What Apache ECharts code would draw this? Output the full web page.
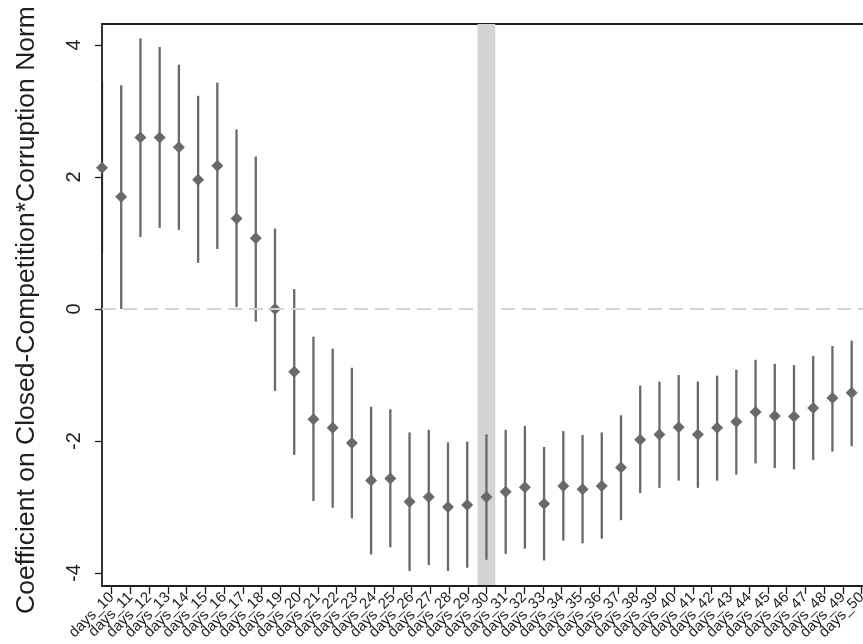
<!DOCTYPE html>
<html>
<head>
<meta charset="utf-8">
<script src="https://cdn.jsdelivr.net/npm/echarts@6/dist/echarts.min.js"></script>
<style>
  html, body { margin: 0; padding: 0; background: #fff; }
  #chart { width: 863px; height: 644px; }
</style>
</head>
<body>
<div id="chart"></div>
<script>
// Tick labels along the horizontal axis
const tickLabels = [
  'days_10', 'days_11', 'days_12', 'days_13', 'days_14', 'days_15', 'days_16',
  'days_17', 'days_18', 'days_19', 'days_20', 'days_21', 'days_22', 'days_23',
  'days_24', 'days_25', 'days_26', 'days_27', 'days_28', 'days_29', 'days_30',
  'days_31', 'days_32', 'days_33', 'days_34', 'days_35', 'days_36', 'days_37',
  'days_38', 'days_39', 'days_40', 'days_41', 'days_42', 'days_43', 'days_44',
  'days_45', 'days_46', 'days_47', 'days_48', 'days_49', 'days_50'
];

// Point estimates and confidence bounds
const coef = [
  2.14, 1.70, 2.60, 2.60, 2.45, 1.96, 2.17, 1.37, 1.07, 0.00,
  -0.95, -1.67, -1.80, -2.03, -2.60, -2.57, -2.92, -2.85, -3.00, -2.97,
  -2.85, -2.77, -2.70, -2.95, -2.68, -2.73, -2.68, -2.40, -1.98, -1.90,
  -1.79, -1.90, -1.80, -1.71, -1.56, -1.62, -1.63, -1.50, -1.35, -1.27
];
const ciLow = [
  0.85, 0.00, 1.09, 1.23, 1.20, 0.70, 0.91, 0.03, -0.19, -1.24,
  -2.21, -2.91, -3.01, -3.17, -3.72, -3.61, -3.97, -3.88, -3.97, -3.92,
  -3.80, -3.71, -3.63, -3.81, -3.51, -3.55, -3.48, -3.20, -2.79, -2.71,
  -2.60, -2.71, -2.60, -2.51, -2.34, -2.41, -2.43, -2.29, -2.16, -2.08
];
const ciHigh = [
  3.45, 3.39, 4.10, 3.97, 3.70, 3.23, 3.43, 2.72, 2.31, 1.22,
  0.30, -0.42, -0.60, -0.89, -1.48, -1.52, -1.87, -1.83, -2.02, -2.01,
  -1.90, -1.83, -1.77, -2.09, -1.85, -1.91, -1.87, -1.61, -1.16, -1.10,
  -1.00, -1.10, -1.01, -0.92, -0.77, -0.83, -0.85, -0.71, -0.56, -0.48
];

// Value-axis ticks and the highlighted estimate
const yTicks = [-4, -2, 0, 2, 4];
const highlightIndex = 20;

const FONT = 'Liberation Sans, Arial, sans-serif';
const MARK = '#696969';
const INK = '#1e1e1e';

const pointData = coef.map((v, i) => [i, v]);
const barData = coef.map((v, i) => [i, ciLow[i], ciHigh[i]]);

const chart = echarts.init(document.getElementById('chart'), null, { renderer: 'canvas' });

chart.setOption({
  animation: false,
  backgroundColor: '#fff',
  grid: [
    { left: 102, right: 0, top: 24, bottom: 58, outerBoundsMode: 'none', containLabel: false },
    { left: 111.7, right: 1.3, top: 24, bottom: 58, outerBoundsMode: 'none', containLabel: false }
  ],
  xAxis: [
    {
      type: 'value', gridIndex: 0, min: 0, max: 39.59, position: 'bottom', z: 5,
      axisLine: { show: true, onZero: false, lineStyle: { color: INK, width: 1.8 } },
      axisTick: { show: false }, axisLabel: { show: false }, splitLine: { show: false }
    },
    {
      type: 'value', gridIndex: 0, min: 0, max: 39.59, position: 'top', z: 0,
      axisLine: { show: true, onZero: false, lineStyle: { color: INK, width: 1.8 } },
      axisTick: { show: false }, axisLabel: { show: false }, splitLine: { show: false }
    },
    {
      type: 'category', gridIndex: 1, data: tickLabels, boundaryGap: false, position: 'bottom', z: 5,
      axisLine: { show: false, onZero: false },
      axisTick: { show: true, inside: false, length: 8, alignWithLabel: true,
        lineStyle: { color: INK, width: 1.3 } },
      axisLabel: { show: true, rotate: 45, interval: 0, margin: 9, fontSize: 15,
        color: INK, fontFamily: FONT },
      splitLine: { show: false }
    }
  ],
  yAxis: [
    {
      type: 'value', gridIndex: 0, min: -4.197, max: 4.318, z: 3,
      name: 'Coefficient on Closed-Competition*Corruption Norm',
      nameLocation: 'middle', nameGap: 62, nameRotate: 90,
      nameTextStyle: { fontSize: 26.5, color: INK, fontFamily: FONT, padding: [0, 10, 0, 0] },
      axisLine: { show: true, onZero: false, lineStyle: { color: INK, width: 1.8 } },
      axisTick: { show: true, length: 7, customValues: yTicks, lineStyle: { color: INK, width: 1.3 } },
      axisLabel: { show: true, rotate: 90, margin: 18, fontSize: 20, color: INK,
        fontFamily: FONT, customValues: yTicks },
      splitLine: { show: false }
    },
    { type: 'value', gridIndex: 1, show: false }
  ],
  series: [
    {
      type: 'custom',
      xAxisIndex: 0, yAxisIndex: 0, z: 2,
      clip: true,
      data: barData,
      renderItem: function (params, api) {
        const top = api.coord([api.value(0), api.value(2)]);
        const bot = api.coord([api.value(0), api.value(1)]);
        return {
          type: 'line',
          shape: { x1: top[0], y1: top[1], x2: bot[0], y2: bot[1] },
          style: { stroke: MARK, lineWidth: 2.3 }
        };
      },
      markArea: {
        silent: true,
        itemStyle: { color: '#d3d3d3' },
        data: [[{ xAxis: highlightIndex - 0.46 }, { xAxis: highlightIndex + 0.46 }]]
      },
      markLine: {
        silent: true, symbol: 'none', label: { show: false },
        lineStyle: { color: '#d4d4d4', type: [14, 7], width: 2 },
        data: [{ yAxis: 0 }]
      }
    },
    {
      type: 'scatter',
      xAxisIndex: 0, yAxisIndex: 0, z: 4,
      symbol: 'diamond', symbolSize: 12,
      itemStyle: { color: MARK, opacity: 1 },
      data: pointData
    }
  ]
});
</script>
</body>
</html>
